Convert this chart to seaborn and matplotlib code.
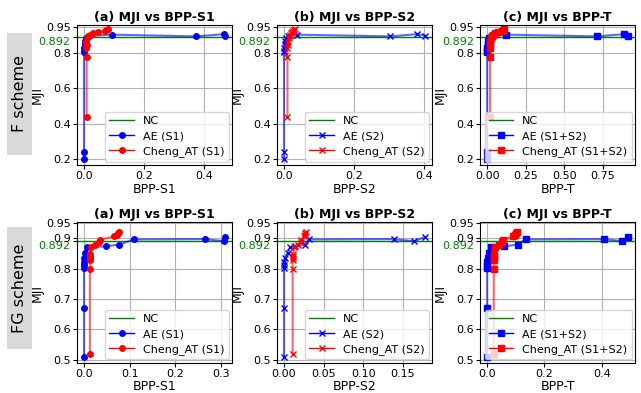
import pandas as pd
import matplotlib.pyplot as plt
import seaborn as sns
from matplotlib.lines import Line2D
from matplotlib.patches import Rectangle
from matplotlib.ticker import MultipleLocator, FormatStrFormatter

# Valor de referencia sin compresion
NC_MJI = 0.892

# F scheme - AE
F_AE_MJI = [0.20, 0.24, 0.805, 0.815, 0.83, 0.85, 0.87, 0.885, 0.898, 0.905, 0.895, 0.908, 0.90]
F_AE_S1 = [0.0, 0.0, 0.0, 0.0, 0.001, 0.002, 0.004, 0.008, 0.018, 0.092, 0.375, 0.468, 0.471]
F_AE_S2 = [0.0, 0.0, 0.0, 0.0, 0.001, 0.002, 0.003, 0.006, 0.012, 0.037, 0.303, 0.379, 0.402]
F_AE_T = [0.0, 0.0, 0.0, 0.001, 0.002, 0.004, 0.007, 0.014, 0.03, 0.125, 0.713, 0.89, 0.915]

# F scheme - Cheng_AT
F_CH_MJI = [0.44, 0.78, 0.83, 0.845, 0.865, 0.885, 0.90, 0.905, 0.915, 0.918, 0.927, 0.93, 0.937]
F_CH_S1 = [0.009, 0.009, 0.008, 0.009, 0.008, 0.01, 0.013, 0.02, 0.031, 0.048, 0.07, 0.075, 0.081]
F_CH_S2 = [0.01, 0.01, 0.01, 0.011, 0.012, 0.014, 0.016, 0.018, 0.021, 0.024, 0.027, 0.029, 0.031]
F_CH_T = [0.019, 0.019, 0.018, 0.02, 0.021, 0.024, 0.029, 0.038, 0.052, 0.072, 0.097, 0.104, 0.11]

# FG scheme - AE
FG_AE_MJI = [0.51, 0.672, 0.803, 0.812, 0.822, 0.836, 0.853, 0.871, 0.874, 0.88, 0.897, 0.898, 0.891, 0.905]
FG_AE_S1 = [0.0, 0.0, 0.0, 0.0, 0.0, 0.001, 0.002, 0.006, 0.048, 0.077, 0.109, 0.265, 0.307, 0.309]
FG_AE_S2 = [0.0, 0.0, 0.0, 0.0, 0.0, 0.001, 0.005, 0.0075, 0.014, 0.026, 0.032, 0.139, 0.164, 0.178]
FG_AE_T = [0.0, 0.0, 0.0, 0.0, 0.001, 0.002, 0.006, 0.012, 0.058, 0.108, 0.134, 0.408, 0.472, 0.492]

# FG scheme - Cheng_AT
FG_CH_MJI = [0.518, 0.80, 0.828, 0.835, 0.842, 0.848, 0.873, 0.878, 0.89, 0.895, 0.907, 0.913, 0.918, 0.923]
FG_CH_S1 = [0.013, 0.013, 0.013, 0.013, 0.014, 0.014, 0.016, 0.025, 0.033, 0.035, 0.066, 0.072, 0.075, 0.077]
FG_CH_S2 = [0.011, 0.011, 0.011, 0.011, 0.011, 0.012, 0.013, 0.018, 0.021, 0.022, 0.025, 0.026, 0.027, 0.028]
FG_CH_T = [0.023, 0.023, 0.023, 0.023, 0.024, 0.025, 0.028, 0.042, 0.052, 0.056, 0.090, 0.096, 0.100, 0.104]

TITULOS = ["(a) MJI vs BPP-S1", "(b) MJI vs BPP-S2", "(c) MJI vs BPP-T"]
XLABELS = ["BPP-S1", "BPP-S2", "BPP-T"]
SUFIJOS = ["S1", "S2", "S1+S2"]
MARCADORES = ["o", "x", "s"]
ESQUEMAS = ["F scheme", "FG scheme"]

filas = [
    dict(ae_y=F_AE_MJI, ae_x=[F_AE_S1, F_AE_S2, F_AE_T],
         ch_y=F_CH_MJI, ch_x=[F_CH_S1, F_CH_S2, F_CH_T],
         yticks=[0.2, 0.4, 0.6, 0.8, NC_MJI, 0.95], ylim=(0.166, 0.961),
         xpasos=[(0.2, "%.1f"), (0.2, "%.1f"), (0.25, "%.2f")]),
    dict(ae_y=FG_AE_MJI, ae_x=[FG_AE_S1, FG_AE_S2, FG_AE_T],
         ch_y=FG_CH_MJI, ch_x=[FG_CH_S1, FG_CH_S2, FG_CH_T],
         yticks=[0.5, 0.6, 0.7, 0.8, NC_MJI, 0.9, 0.95], ylim=(0.49, 0.953),
         xpasos=[(0.1, "%.1f"), (0.05, "%.2f"), (0.2, "%.1f")]),
]


def dibujar_serie(ax, x, y, color, marcador):
    df = pd.DataFrame({"bpp": x, "mji": y})
    sns.lineplot(data=df, x="bpp", y="mji", sort=False, estimator=None,
                 color=color, alpha=0.6, lw=1.5, ax=ax)
    sns.lineplot(data=df, x="bpp", y="mji", sort=False, estimator=None,
                 color=color, linestyle="", marker=marcador, ms=4,
                 mec=color, mfc=color, mew=1.0, ax=ax)


fig = plt.figure(figsize=(6.41, 3.93), dpi=100)
lefts = [0.120, 0.432, 0.749]
bottoms = [0.580, 0.077]

for i, fila in enumerate(filas):
    for j in range(3):
        ax = fig.add_axes([lefts[j], bottoms[i], 0.242, 0.357])
        ax.grid(True, color="#b0b0b0", lw=0.8)
        ax.set_axisbelow(True)
        ax.axhline(NC_MJI, color="green", lw=1.0)
        dibujar_serie(ax, fila["ae_x"][j], fila["ae_y"], "blue", MARCADORES[j])
        dibujar_serie(ax, fila["ch_x"][j], fila["ch_y"], "red", MARCADORES[j])

        paso, fmt = fila["xpasos"][j]
        ax.xaxis.set_major_locator(MultipleLocator(paso))
        ax.xaxis.set_major_formatter(FormatStrFormatter(fmt))

        ax.set_ylim(fila["ylim"])
        ax.set_yticks(fila["yticks"])
        ax.set_yticklabels([f"{t:g}" for t in fila["yticks"]])
        for lab, t in zip(ax.get_yticklabels(), fila["yticks"]):
            if t == NC_MJI:
                lab.set_color("green")
                lab.set_va("top")
        ax.tick_params(labelsize=8, length=3, pad=1.5)
        ax.set_title(TITULOS[j], fontsize=9, fontweight="bold", pad=3)
        ax.set_xlabel(XLABELS[j], fontsize=9, labelpad=1)
        ax.set_ylabel("MJI", fontsize=9)
        ax.yaxis.set_label_coords(-0.215, 0.5)

        handles = [
            Line2D([], [], color="green", lw=1.0),
            Line2D([], [], color="blue", lw=1.0, marker=MARCADORES[j], ms=4, mew=1.0),
            Line2D([], [], color="red", lw=1.0, marker=MARCADORES[j], ms=4, mew=1.0),
        ]
        etiquetas = ["NC", f"AE ({SUFIJOS[j]})", f"Cheng_AT ({SUFIJOS[j]})"]
        ax.legend(handles, etiquetas, loc="lower right", fontsize=8,
                  borderaxespad=0.3, labelspacing=0.45, handlelength=2.2)

# Etiquetas de esquema con fondo gris
cajas = [(33, 155), (227, 349)]
for nombre, (y0, y1) in zip(ESQUEMAS, cajas):
    fig.patches.append(Rectangle((7 / 641, 1 - y1 / 393), 25 / 641, (y1 - y0) / 393,
                                 transform=fig.transFigure, facecolor="#d9d9d9",
                                 edgecolor="none", zorder=-5))
    fig.text(19.5 / 641, 1 - (y0 + y1) / 2 / 393, nombre, rotation=90,
             fontsize=11.5, ha="center", va="center")

fig.savefig("out.png", dpi=100)
